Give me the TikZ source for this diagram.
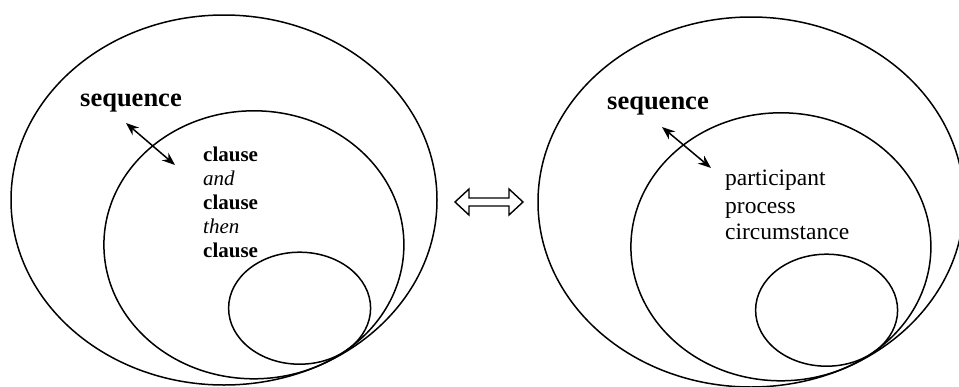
\documentclass[tikz,border=0pt]{standalone}
\usepackage{fontspec}
\setmainfont{Liberation Serif}
\usetikzlibrary{arrows.meta,shapes.geometric}
\begin{document}
\begin{tikzpicture}[x=1pt,y=-1pt,
  ring/.style={draw=black,ellipse,line width=1.5pt,inner sep=0pt},
  seqlabel/.style={anchor=base west,inner sep=0pt,font=\fontsize{26.5}{30}\selectfont\bfseries},
  leftword/.style={anchor=base west,inner sep=0pt,font=\fontsize{21}{24}\selectfont\bfseries},
  leftital/.style={anchor=base west,inner sep=0pt,font=\fontsize{21}{24}\selectfont\itshape},
  rightword/.style={anchor=base west,inner sep=0pt,font=\fontsize{23.5}{27}\selectfont},
  link/.style={line width=1.5pt,{Stealth[length=13pt,width=10pt]}-{Stealth[length=13pt,width=10pt]}}
]
\useasboundingbox (0,0) rectangle (959,386);
\fill[white] (0,0) rectangle (959,386);

% left diagram
\node[ring,minimum width=426pt,minimum height=370pt] (Lout) at (224,200) {};
\node[ring,minimum width=300pt,minimum height=268pt] (Lmid) at (253.9,244.8) {};
\node[ring,minimum width=142pt,minimum height=112pt] (Lin) at (299.6,308.2) {};
\node[seqlabel] (Lseq) at (80,106) {sequence};
\coordinate (La) at (126,123);
\coordinate (Lb) at (175,165);
\draw[link] (La) -- (Lb);
\node[leftword] (L1) at (203,161) {clause};
\node[leftital] (L2) at (203,185) {and};
\node[leftword] (L3) at (203,209) {clause};
\node[leftital] (L4) at (203,233) {then};
\node[leftword] (L5) at (203,257) {clause};

% middle double arrow
\draw[line width=1.4pt,line join=miter]
  (455,202) -- (469,189) -- (469,198) -- (509,198) -- (509,189) -- (523,202)
  -- (509,215) -- (509,206) -- (469,206) -- (469,215) -- cycle;

% right diagram
\node[ring,minimum width=426pt,minimum height=370pt] (Rout) at (751,202) {};
\node[ring,minimum width=300pt,minimum height=268pt] (Rmid) at (780.9,246.8) {};
\node[ring,minimum width=142pt,minimum height=112pt] (Rin) at (826.6,310.2) {};
\node[seqlabel] (Rseq) at (607,109) {sequence};
\coordinate (Ra) at (662,127);
\coordinate (Rb) at (711,168);
\draw[link] (Ra) -- (Rb);
\node[rightword] (R1) at (725,185) {participant};
\node[rightword] (R2) at (725,213) {process};
\node[rightword] (R3) at (725,239) {circumstance};
\end{tikzpicture}
\end{document}
